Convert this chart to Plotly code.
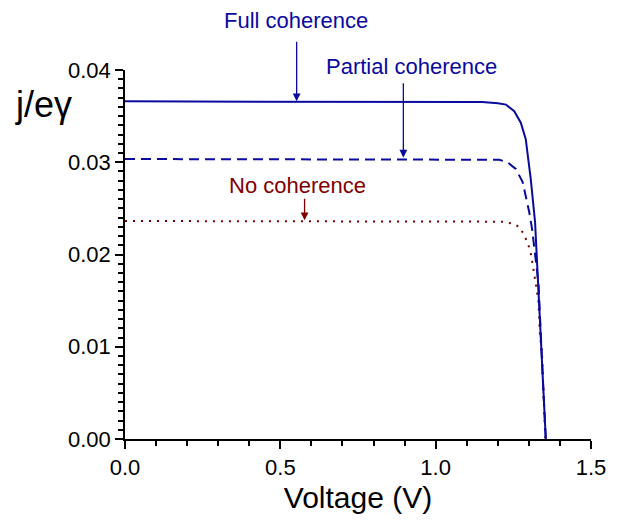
import plotly.graph_objects as go

# ---- data ----
v_full = [0.0, 0.3, 0.6, 0.9, 1.1, 1.15, 1.2, 1.226, 1.253, 1.274, 1.29, 1.306, 1.32, 1.3256, 1.331, 1.339, 1.347, 1.3545]
j_full = [0.0366, 0.0366, 0.0366, 0.0366, 0.03658, 0.03652, 0.0364, 0.03625, 0.03553, 0.03428, 0.0325, 0.0282, 0.0235, 0.0196, 0.0175, 0.0105, 0.0052, 0.0]

v_partial = [0.0, 0.3, 0.6, 0.9, 1.1, 1.205, 1.231, 1.258, 1.28, 1.29, 1.301, 1.31, 1.317, 1.324, 1.331, 1.339, 1.347, 1.3545]
j_partial = [0.03035, 0.03035, 0.03035, 0.03035, 0.03035, 0.03027, 0.0300, 0.02928, 0.02785, 0.02641, 0.02463, 0.02284, 0.02105, 0.0189, 0.0168, 0.0103, 0.0051, 0.0]

v_none = [0.0, 0.3, 0.6, 0.9, 1.1, 1.215, 1.242, 1.269, 1.285, 1.298, 1.306, 1.3115, 1.322, 1.331, 1.335, 1.342, 1.353]
j_none = [0.02363, 0.02363, 0.02363, 0.02363, 0.02363, 0.02356, 0.02338, 0.02302, 0.02212, 0.02105, 0.02016, 0.0191, 0.0169, 0.0148, 0.0116, 0.0094, 0.0]

x_range = [0.0, 1.5]
y_range = [0.00, 0.04]

labels = ["Full coherence", "Partial coherence", "No coherence"]
arrow_tips = [(0.5525, 0.0366), (0.896, 0.0305), (0.578, 0.0237)]

NAVY = "#0A0A9E"
WINE = "#800000"
FONT = "Arial, Liberation Sans, sans-serif"

fig = go.Figure()
fig.add_trace(go.Scatter(x=v_none, y=j_none, mode="lines",
                         line=dict(color=WINE, width=2, dash="2px,6px"), showlegend=False))
fig.add_trace(go.Scatter(x=v_partial, y=j_partial, mode="lines",
                         line=dict(color=NAVY, width=2, dash="10px,6px"), showlegend=False))
fig.add_trace(go.Scatter(x=v_full, y=j_full, mode="lines",
                         line=dict(color=NAVY, width=2), showlegend=False))

# text labels
text_pos = [(0.368, 1.134), (0.6146, 1.0107), (0.3704, 0.6863)]
text_col = [NAVY, NAVY, WINE]
for lab, (xp, yp), c in zip(labels, text_pos, text_col):
    fig.add_annotation(x=xp, y=yp, xref="paper", yref="paper", text=lab,
                       showarrow=False, xanchor="center", yanchor="middle",
                       font=dict(family=FONT, size=22, color=c))

# arrows
ay_offsets = [-61, -76, -23]
for (xt, yt), ay, c in zip(arrow_tips, ay_offsets, text_col):
    fig.add_annotation(x=xt, y=yt, xref="x", yref="y", text="",
                       showarrow=True, ax=0, ay=ay, arrowhead=2, arrowsize=1.2,
                       arrowwidth=1.3, arrowcolor=c)

# y-axis title (horizontal)
fig.add_annotation(x=-0.1756, y=0.906, xref="paper", yref="paper", text="j/eγ",
                   showarrow=False, xanchor="center", yanchor="middle",
                   font=dict(family=FONT, size=36, color="black"))

major = dict(showgrid=False, zeroline=False, showline=True, linecolor="black", linewidth=1.5,
             ticks="outside", ticklen=8, tickwidth=1.5, tickcolor="black",
             tickfont=dict(size=22))

fig.update_layout(
    width=618, height=521,
    margin=dict(l=125, r=26, t=70, b=78),
    plot_bgcolor="white", paper_bgcolor="white",
    font=dict(family=FONT, color="black"),
    xaxis=dict(range=x_range, tickmode="linear", tick0=0, dtick=0.5, tickformat=".1f",
               minor=dict(dtick=0.1, ticks="outside", ticklen=5, tickwidth=1.5, tickcolor="black"),
               title=dict(text="Voltage (V)", font=dict(size=30), standoff=8), **major),
    yaxis=dict(range=y_range, tickmode="linear", tick0=0, dtick=0.01, tickformat=".2f",
               minor=dict(dtick=0.001, ticks="outside", ticklen=5, tickwidth=1.5, tickcolor="black"),
               **major),
)

fig.write_html("out.html")
